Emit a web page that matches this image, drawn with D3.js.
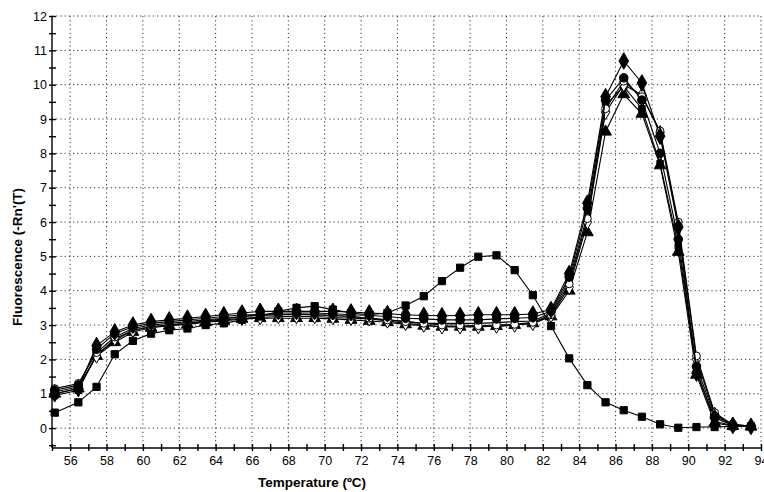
<!DOCTYPE html>
<html>
<head>
<meta charset="utf-8">
<script src="https://cdn.jsdelivr.net/npm/d3@7"></script>
<style>
  body { margin: 0; background: #fff; }
  svg { display: block; font-family: "Liberation Sans", Arial, sans-serif; }
</style>
</head>
<body>
<div id="chart"></div>
<script>
// melt curve readings (temperature in ºC)
const temps = [55.15, 56.45, 57.45, 58.45, 59.45, 60.45, 61.45, 62.45, 63.45, 64.45,
    65.45, 66.45, 67.45, 68.45, 69.45, 70.45, 71.45, 72.45, 73.45, 74.45,
    75.45, 76.45, 77.45, 78.45, 79.45, 80.45, 81.45, 82.45, 83.45, 84.45,
    85.45, 86.45, 87.45, 88.45, 89.45, 90.45, 91.45, 92.45, 93.45];

const diamondFilled = [1.0, 1.15, 2.4, 2.8, 3.0, 3.1, 3.15, 3.2, 3.25, 3.3, 3.35, 3.4, 3.4, 3.4, 3.4, 3.4, 3.38, 3.35, 3.33, 3.3,
    3.28, 3.27, 3.28, 3.3, 3.3, 3.3, 3.32, 3.45, 4.5, 6.55, 9.65, 10.69, 10.05, 8.5, 5.85, 1.6, 0.3, 0.08, 0.05];
const circleFilled = [1.1, 1.25, 2.3, 2.75, 2.95, 3.05, 3.1, 3.15, 3.2, 3.25, 3.3, 3.3, 3.35, 3.35, 3.35, 3.33, 3.3, 3.28, 3.25, 3.2,
    3.18, 3.15, 3.15, 3.15, 3.18, 3.2, 3.22, 3.4, 4.4, 6.4, 9.55, 10.2, 9.55, 8.0, 5.5, 1.8, 0.35, 0.1, 0.05];
const circleOpen = [1.15, 1.3, 2.2, 2.65, 2.9, 3.0, 3.05, 3.1, 3.15, 3.2, 3.25, 3.28, 3.3, 3.3, 3.3, 3.28, 3.25, 3.2, 3.15, 3.1,
    3.05, 3.0, 3.0, 2.98, 3.0, 3.02, 3.08, 3.3, 4.2, 6.1, 9.3, 10.1, 9.65, 8.65, 6.0, 2.1, 0.45, 0.1, 0.06];
const diamondOpen = [1.05, 1.2, 2.1, 2.6, 2.85, 2.95, 3.0, 3.05, 3.1, 3.15, 3.2, 3.22, 3.25, 3.25, 3.25, 3.22, 3.2, 3.18, 3.12, 3.05,
    3.0, 2.95, 2.95, 2.95, 2.97, 3.0, 3.05, 3.28, 4.1, 6.0, 9.2, 10.0, 9.7, 8.6, 5.9, 2.0, 0.4, 0.1, 0.06];
const squareSmall = [0.95, 1.1, 2.15, 2.55, 2.85, 2.95, 3.0, 3.05, 3.12, 3.18, 3.25, 3.3, 3.3, 3.32, 3.3, 3.28, 3.25, 3.2, 3.15, 3.1,
    3.05, 3.05, 3.05, 3.05, 3.07, 3.1, 3.12, 3.35, 4.3, 6.2, 9.4, 9.95, 9.3, 7.7, 5.3, 1.7, 0.2, 0.07, 0.05];
const triangleFilled = [1.0, 1.15, 2.1, 2.5, 2.8, 2.92, 2.98, 3.02, 3.08, 3.12, 3.18, 3.2, 3.2, 3.2, 3.2, 3.18, 3.15, 3.12, 3.08, 3.02,
    2.98, 2.95, 2.95, 2.95, 2.97, 3.0, 3.05, 3.25, 4.0, 5.7, 8.63, 9.72, 9.15, 7.65, 5.13, 1.55, 0.15, 0.06, 0.04];
const squareBig = [0.45, 0.75, 1.2, 2.15, 2.54, 2.75, 2.85, 2.9, 3.0, 3.05, 3.15, 3.25, 3.4, 3.5, 3.55, 3.45, 3.35, 3.3, 3.35, 3.57,
    3.84, 4.28, 4.67, 4.99, 5.03, 4.6, 3.87, 2.97, 2.03, 1.25, 0.75, 0.52, 0.33, 0.11, 0.01, 0.03, 0.03, 0.05, 0.05];

const xTicks = [56, 58, 60, 62, 64, 66, 68, 70, 72, 74, 76, 78, 80, 82, 84, 86, 88, 90, 92, 94];
const yTicks = [0, 1, 2, 3, 4, 5, 6, 7, 8, 9, 10, 11, 12];

const series = [
    { values: triangleFilled, symbol: d3.symbolTriangle, size: 60, fill: "#000" },
    { values: squareSmall, symbol: d3.symbolSquare, size: 42, fill: "#000" },
    { values: diamondOpen, symbol: d3.symbolDiamond, size: 60, fill: "#fff" },
    { values: circleOpen, symbol: d3.symbolCircle, size: 48, fill: "#fff" },
    { values: circleFilled, symbol: d3.symbolCircle, size: 58, fill: "#000" },
    { values: diamondFilled, symbol: d3.symbolDiamond, size: 80, fill: "#000" },
    { values: squareBig, symbol: d3.symbolSquare, size: 52, fill: "#000" }
];

const width = 764, height = 492;
const margin = { left: 52, right: 3, top: 16, bottom: 44 };

const svg = d3.select("#chart").append("svg")
    .attr("width", width)
    .attr("height", height);

const x = d3.scaleLinear().domain([55, 94]).range([margin.left, width - margin.right]);
const y = d3.scaleLinear().domain([-0.58, 12]).range([height - margin.bottom, margin.top]);

// dotted grid
svg.append("g")
    .selectAll("line")
    .data(yTicks)
    .enter().append("line")
        .attr("x1", margin.left)
        .attr("x2", width - margin.right)
        .attr("y1", d => y(d))
        .attr("y2", d => y(d))
        .style("stroke", "#333")
        .style("stroke-dasharray", "1.2,3");

svg.append("g")
    .selectAll("line")
    .data(xTicks)
    .enter().append("line")
        .attr("x1", d => x(d))
        .attr("x2", d => x(d))
        .attr("y1", margin.top)
        .attr("y2", height - margin.bottom)
        .style("stroke", "#333")
        .style("stroke-dasharray", "1.2,3");

// axes, ticks crossing the line
const yAxis = svg.append("g")
    .attr("transform", `translate(${margin.left},0)`)
    .call(d3.axisLeft(y).tickValues(d3.range(-0.5, 12.01, 0.5)).tickSize(3)
        .tickFormat(d => Number.isInteger(d) && d >= 0 ? d : ""));
yAxis.selectAll(".tick line").attr("x2", -3).attr("x1", 4);
yAxis.select(".domain").attr("d", `M0,${margin.top}V${height - margin.bottom}`);
yAxis.selectAll(".tick text").attr("x", -5).style("font-size", "12.5px").style("fill", "#000");

const xAxis = svg.append("g")
    .attr("transform", `translate(0,${height - margin.bottom})`)
    .call(d3.axisBottom(x).tickValues(d3.range(55, 94.01, 1)).tickSize(3)
        .tickFormat(d => d % 2 === 0 ? d : ""));
xAxis.selectAll(".tick line").attr("y1", -4).attr("y2", 3);
xAxis.select(".domain").attr("d", `M${margin.left},0H${width - margin.right}`);
xAxis.selectAll(".tick text").attr("y", 8).style("font-size", "12.5px").style("fill", "#000");
svg.selectAll(".domain, .tick line").style("stroke", "#000").style("stroke-width", 1.4);

// curves
const line = d3.line()
    .x((d, i) => x(temps[i]))
    .y(d => y(d));

series.forEach(s => {
    const g = svg.append("g");
    g.append("path")
        .datum(s.values)
        .attr("d", line)
        .style("fill", "none")
        .style("stroke", "#000")
        .style("stroke-width", 1.1);
    g.selectAll("path.marker")
        .data(s.values)
        .enter().append("path")
            .attr("class", "marker")
            .attr("d", d3.symbol().type(s.symbol).size(s.size))
            .attr("transform", (d, i) => `translate(${x(temps[i])},${y(d)})`)
            .style("fill", s.fill)
            .style("stroke", "#000")
            .style("stroke-width", 1);
});

// titles
svg.append("text")
    .attr("x", 312)
    .attr("y", 487)
    .attr("text-anchor", "middle")
    .style("font-size", "13.5px")
    .style("font-weight", "bold")
    .text("Temperature (ºC)");

svg.append("text")
    .attr("transform", "translate(22,257) rotate(-90)")
    .attr("text-anchor", "middle")
    .style("font-size", "13.5px")
    .style("font-weight", "bold")
    .text("Fluorescence (-Rn'(T)");
</script>
</body>
</html>
